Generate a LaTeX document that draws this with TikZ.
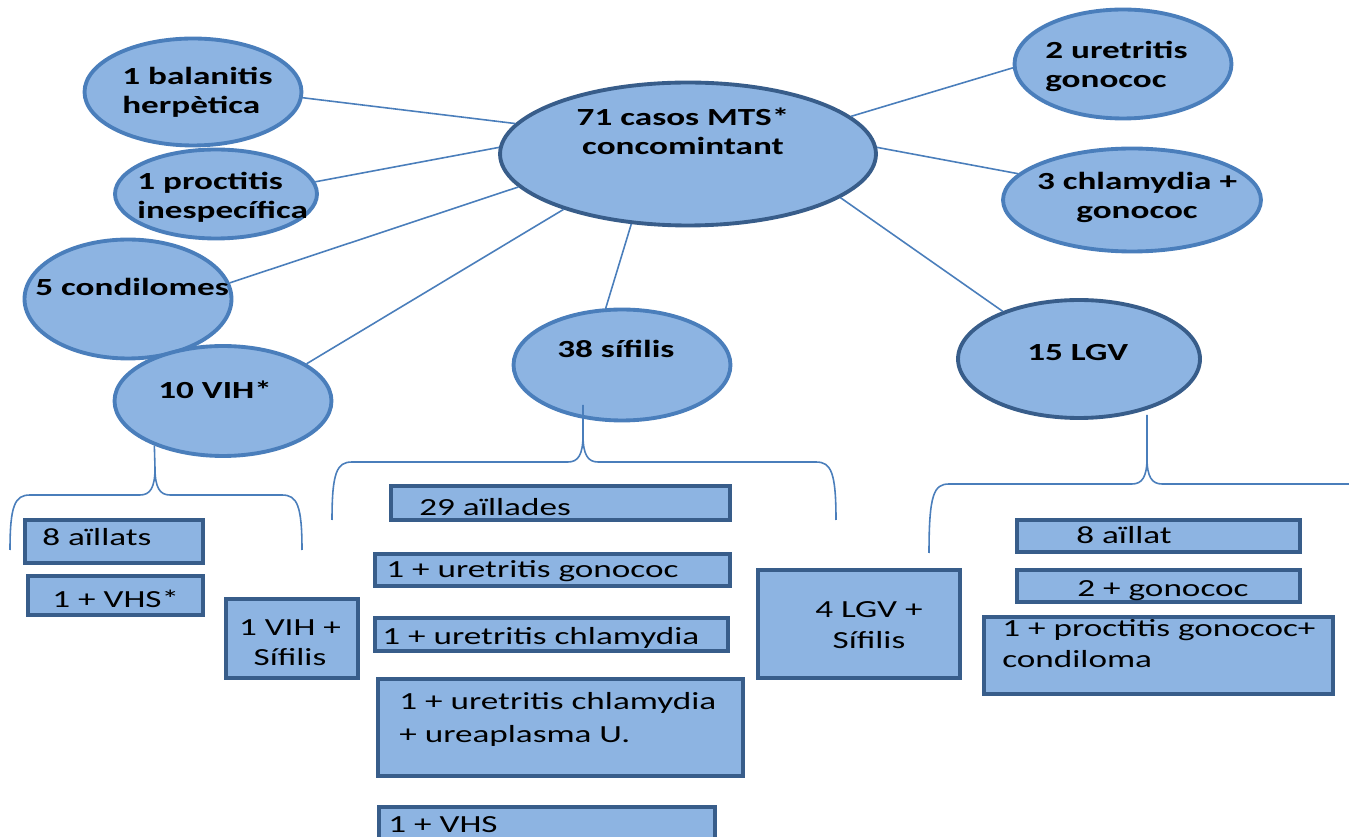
\documentclass[tikz,border=0pt]{standalone}
\usepackage{fontspec}
\setmainfont{Carlito}[FakeStretch=1.43]
\usetikzlibrary{shapes.geometric}
\definecolor{bubfill}{RGB}{141,180,226}
\definecolor{edgemid}{RGB}{74,126,187}
\definecolor{edgedark}{RGB}{56,93,138}

\begin{document}
\begin{tikzpicture}[x=0.02cm,y=-0.02cm,
    bubble/.style={ellipse,draw=edgemid,line width=2.2pt,fill=bubfill,inner sep=0pt},
    bigbubble/.style={bubble,draw=edgedark},
    box/.style={draw=edgedark,line width=2.6pt,fill=bubfill},
    link/.style={draw=edgemid,line width=0.9pt},
    brace/.style={draw=edgemid,line width=0.9pt},
    txt/.style={inner sep=0pt,align=left,font=\fontsize{14}{17.5}\selectfont,execute at begin node=\strut},
    btxt/.style={txt,font=\fontsize{14}{16.5}\selectfont\bfseries}]
    \useasboundingbox (0,0) rectangle (1349,837);
    \fill[white] (0,0) rectangle (1349,837);
    \clip (0,0) rectangle (1349,837);

    \node[bubble,minimum width=4.34cm,minimum height=2.14cm] (bal) at (193,92) {};
    \node[bubble,minimum width=4.04cm,minimum height=1.78cm] (proc) at (216,194) {};
    \node[bubble,minimum width=4.14cm,minimum height=2.38cm] (cond) at (128,299) {};
    \node[bubble,minimum width=4.34cm,minimum height=2.2cm] (vih) at (223,401) {};
    \node[bigbubble,minimum width=7.52cm,minimum height=2.86cm] (casos) at (688,154) {};
    \node[bubble,minimum width=4.34cm,minimum height=2.18cm] (uret) at (1123,64) {};
    \node[bubble,minimum width=5.16cm,minimum height=2.06cm] (chla) at (1132,200) {};
    \node[bubble,minimum width=4.34cm,minimum height=2.22cm] (sif) at (622,365) {};
    \node[bigbubble,minimum width=4.84cm,minimum height=2.36cm] (lgv) at (1079,359) {};

    \node[btxt,anchor=north west] (balt) at (122,67) {1 balanitis\\herpètica};
    \node[btxt,anchor=north west] (proct) at (137,172) {1 proctitis\\inespecífica};
    \node[btxt,anchor=north west] (condt) at (35,275) {5 condilomes};
    \node[btxt,anchor=north west] (viht) at (158,378) {10 VIH*};
    \node[btxt,anchor=north,align=center] (casost) at (683,108) {71 casos MTS*\\concomintant};
    \node[btxt,anchor=north west] (urett) at (1045,41) {2 uretritis\\gonococ};
    \node[btxt,anchor=north,align=center] (chlat) at (1137,172) {3 chlamydia +\\gonococ};
    \node[btxt,anchor=north west] (sift) at (557,337) {38 sífilis};
    \node[btxt,anchor=north west] (lgvt) at (1027,340) {15 LGV};

    \draw[link] (casos.170) -- (bal.357);
    \draw[link] (casos.178) -- (proc.7);
    \draw[link] (casos.191) -- (cond.9);
    \draw[link] (casos.204) -- (vih.24);
    \draw[link] (casos.231) -- (sif.106);
    \draw[link] (casos.13) -- (uret.182);
    \draw[link] (casos.2) -- (chla.167);
    \draw[link] (casos.344) -- (lgv.148);

    \coordinate (siftip) at (583,405);
    \coordinate (lgvtip) at (1147,415);
    \draw[brace] (vih.213) -- (155,468) .. controls (155,488) and (150,495) .. (140,495) -- (30,495) .. controls (15,495) and (10,505) .. (10,550);
    \draw[brace] (155,468) .. controls (155,488) and (160,495) .. (170,495) -- (282,495) .. controls (297,495) and (302,505) .. (302,550);
    \draw[brace] (siftip) -- (583,435) .. controls (583,455) and (578,462) .. (568,462) -- (352,462) .. controls (337,462) and (332,472) .. (332,520);
    \draw[brace] (583,435) .. controls (583,455) and (588,462) .. (598,462) -- (816,462) .. controls (831,462) and (836,472) .. (836,520);
    \draw[brace] (lgvtip) -- (1147,458) .. controls (1147,477) and (1142,484) .. (1132,484) -- (949,484) .. controls (934,484) and (929,494) .. (929,553);
    \draw[brace] (1147,458) .. controls (1147,477) and (1152,484) .. (1162,484) -- (1360,484);

    \draw[box] (25,520) rectangle (203,563);
    \draw[box] (28,576) rectangle (203,615);
    \draw[box] (226,599) rectangle (358,678);
    \draw[box] (391,486) rectangle (730,520);
    \draw[box] (375,554) rectangle (730,586);
    \draw[box] (375,618) rectangle (728,651);
    \draw[box] (378,679) rectangle (743,776);
    \draw[box] (379,807) rectangle (715,860);
    \draw[box] (758,570) rectangle (960,678);
    \draw[box] (1017,520) rectangle (1300,552);
    \draw[box] (1017,570) rectangle (1300,602);
    \draw[box] (984,617) rectangle (1333,694);

    \node[txt,anchor=north west] (all8t) at (42,524) {8 aïllats};
    \node[txt,anchor=north west] (vhs1t) at (52,586) {1 + VHS*};
    \node[txt,anchor=north,align=center] (vihsift) at (290,619) {1 VIH +\\Sífilis};
    \node[txt,anchor=north west] (a29t) at (419,494) {29 aïllades};
    \node[txt,anchor=north west] (ugont) at (386,556) {1 + uretritis gonococ};
    \node[txt,anchor=north west] (uchlt) at (382,623) {1 + uretritis chlamydia};
    \node[txt,anchor=north west,font=\fontsize{14}{19}\selectfont] (uuret) at (399,692) {1 + uretritis chlamydia\\+ ureaplasma U.};
    \node[txt,anchor=north west] (vhs2t) at (388,811) {1 + VHS};
    \node[txt,anchor=north,align=center] (lgvsift) at (869,601) {4 LGV +\\Sífilis};
    \node[txt,anchor=north west] (a8t) at (1076,522) {8 aïllat};
    \node[txt,anchor=north west] (gon2t) at (1077,575) {2 + gonococ};
    \node[txt,anchor=north west] (procgont) at (1002,619) {1 + proctitis gonococ+\\condiloma};
\end{tikzpicture}
\end{document}
